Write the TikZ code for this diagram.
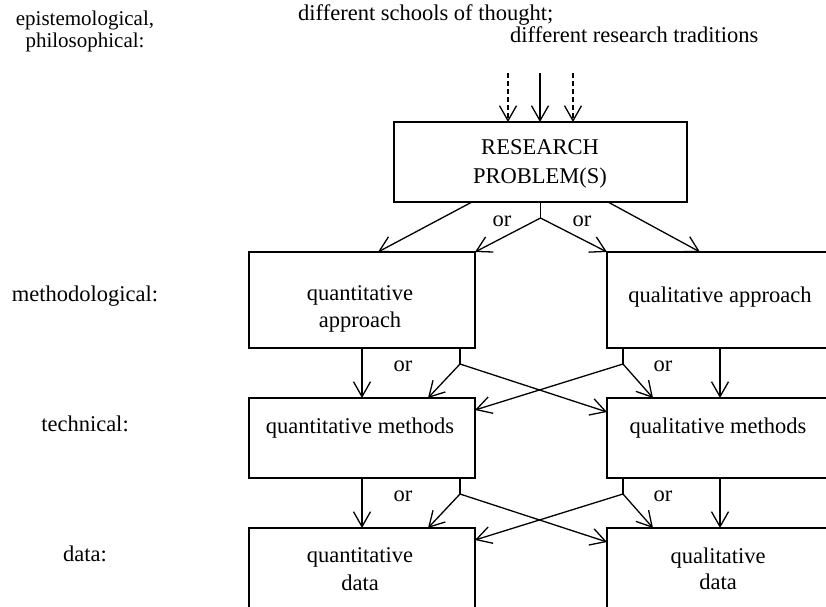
\documentclass[tikz,border=0pt]{standalone}
\usepackage{fontspec}
\setmainfont{Liberation Serif}
\usetikzlibrary{arrows.meta}
\begin{document}
\begin{tikzpicture}[x=1pt,y=-1pt,
  box/.style={draw, line width=1.3pt, inner sep=0pt, outer sep=0pt, minimum width=226pt},
  txt/.style={inner sep=0pt, anchor=base, font=\fontsize{22.5}{29}\selectfont},
  conn/.style={line width=1.3pt},
  arr/.style={conn, -{Straight Barb[length=15pt,width=17pt,line width=1.3pt]}},
  dasharr/.style={arr, dash pattern=on 5pt off 3pt}
]
\useasboundingbox (0,0) rectangle (826,606);
\clip (0,0) rectangle (826,606);

% boxes
\node[box, minimum width=293pt, minimum height=80pt] (rp) at (540.5,162) {};
\node[box, minimum height=96pt] (qa) at (362,300) {};
\node[box, minimum height=96pt] (la) at (720,300) {};
\node[box, minimum height=80pt] (qm) at (362,438) {};
\node[box, minimum height=80pt] (lm) at (720,438) {};
\node[box, minimum height=100pt] (qd) at (362,578) {};
\node[box, minimum height=100pt] (ld) at (720,578) {};

% box texts
\node[txt] (rp1) at (540,154) {RESEARCH};
\node[txt] (rp2) at (540,183) {PROBLEM(S)};
\node[txt] (qa1) at (360,300) {quantitative};
\node[txt] (qa2) at (360,327) {approach};
\node[txt] (la1) at (720,302) {qualitative approach};
\node[txt] (qm1) at (360,433) {quantitative methods};
\node[txt] (lm1) at (718,433) {qualitative methods};
\node[txt] (qd1) at (360,562) {quantitative};
\node[txt] (qd2) at (360,590) {data};
\node[txt] (ld1) at (718,563) {qualitative};
\node[txt] (ld2) at (718,589) {data};

% level labels
\node[txt, font=\fontsize{21}{25}\selectfont] (e1) at (85,25) {epistemological,};
\node[txt, font=\fontsize{21}{25}\selectfont] (e2) at (85,47) {philosophical:};
\node[txt] (l2) at (85,301) {methodological:};
\node[txt] (l3) at (85,431) {technical:};
\node[txt] (l4) at (85,561) {data:};

% top texts
\node[txt, anchor=base west] (d1) at (298,20) {different schools of thought;};
\node[txt, anchor=base west] (d2) at (510,42) {different research traditions};

% incoming arrows
\coordinate (u1) at (508,73);
\coordinate (u2) at (540,73);
\coordinate (u3) at (573,73);
\draw[dasharr] (u1) -- (u1 |- rp.north);
\draw[arr] (u2) -- (u2 |- rp.north);
\draw[dasharr] (u3) -- (u3 |- rp.north);

% problem -> approaches
\coordinate (s0) at (540.5,218);
\draw[arr] ([xshift=78pt]rp.south west) -- ([xshift=129pt]qa.north west);
\draw[conn] (rp.south) -- (s0);
\draw[arr] (s0) -- (qa.north east);
\draw[arr] (s0) -- (la.north west);
\draw[arr] ([xshift=-79pt]rp.south east) -- ([xshift=93pt]la.north west);
\node[txt] (or1) at (502,226) {or};
\node[txt] (or2) at (582,226) {or};

% approaches -> methods
\coordinate (s1) at (460,364);
\coordinate (s2) at (623,364);
\draw[arr] (qa.south) -- (qm.north);
\draw[conn] (s1 |- qa.south) -- (s1);
\draw[arr] (s1) -- ([xshift=179pt]qm.north west);
\draw[arr] (s1) -- ([yshift=-14pt]lm.north west);
\draw[conn] (s2 |- la.south) -- (s2);
\draw[arr] (s2) -- ([yshift=-12pt]qm.north east);
\draw[arr] (s2) -- ([xshift=46pt]lm.north west);
\draw[arr] (la.south) -- (lm.north);
\node[txt] (or3) at (403,371) {or};
\node[txt] (or4) at (663,371) {or};

% methods -> data
\coordinate (s3) at (460,494);
\coordinate (s4) at (623,494);
\draw[arr] (qm.south) -- (qd.north);
\draw[conn] (s3 |- qm.south) -- (s3);
\draw[arr] (s3) -- ([xshift=179pt]qd.north west);
\draw[arr] (s3) -- ([yshift=-14pt]ld.north west);
\draw[conn] (s4 |- lm.south) -- (s4);
\draw[arr] (s4) -- ([yshift=-12pt]qd.north east);
\draw[arr] (s4) -- ([xshift=46pt]ld.north west);
\draw[arr] (lm.south) -- (ld.north);
\node[txt] (or5) at (403,501) {or};
\node[txt] (or6) at (663,501) {or};
\end{tikzpicture}
\end{document}
